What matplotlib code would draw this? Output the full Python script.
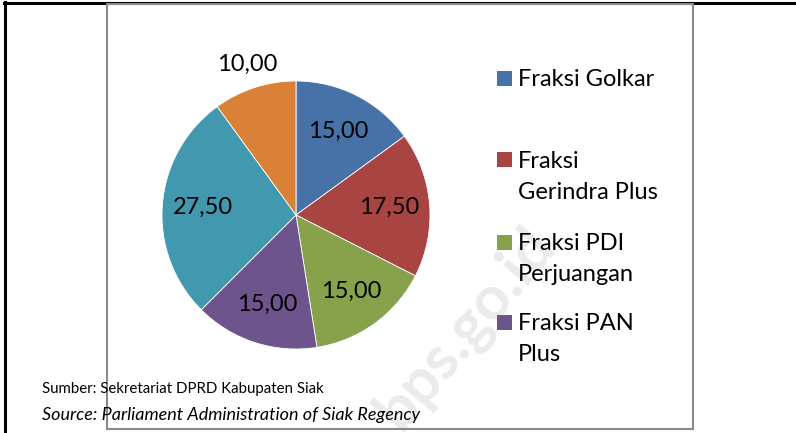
import numpy as np
import matplotlib
matplotlib.use("Agg")
import matplotlib.pyplot as plt
from matplotlib.patches import Rectangle
from matplotlib.lines import Line2D

categories = ["Fraksi Golkar", "Fraksi Gerindra Plus", "Fraksi PDI Perjuangan",
              "Fraksi PAN Plus", "Fraksi Lainnya", "Fraksi Lain"]
values = [15.00, 17.50, 15.00, 15.00, 27.50, 10.00]
legend_labels = ["Fraksi Golkar", "Fraksi\nGerindra Plus", "Fraksi PDI\nPerjuangan", "Fraksi PAN\nPlus"]
colors = ["#4672A8", "#A84542", "#87A24B", "#6E548D", "#4298AF", "#DA8138"]
source_lines = ["Sumber: Sekretariat DPRD Kabupaten Siak",
                "Source: Parliament Administration of Siak Regency"]

W, H = 796, 433
fig = plt.figure(figsize=(W / 100, H / 100), dpi=100)
fig.patch.set_facecolor("white")
plt.rcParams['font.family'] = ['Lato', 'DejaVu Sans']

def fx(x): return x / W
def fy(y): return 1 - y / H

# watermark
fig.text(fx(465), fy(328), "bps.go.id", rotation=50, fontsize=44, fontweight="bold",
         color="#ebebeb", ha="center", va="center", zorder=0)

# gray chart border
fig.add_artist(Rectangle((fx(107), fy(429)), fx(693) - fx(107), fy(4) - fy(429),
                         transform=fig.transFigure, fill=False, edgecolor="#8a8a8a",
                         linewidth=1.5, zorder=3))
# outer black lines
fig.add_artist(Line2D([fx(4), 1], [fy(2.5), fy(2.5)], transform=fig.transFigure,
                      color="black", linewidth=2.2))
fig.add_artist(Line2D([fx(4.5), fx(4.5)], [fy(2), 0], transform=fig.transFigure,
                      color="black", linewidth=2.2))

cx, cy, r = 296, 215, 134
ax = fig.add_axes([fx(cx - r), fy(cy + r), 2 * r / W, 2 * r / H])
ax.patch.set_alpha(0)
wedges, _ = ax.pie(values, colors=colors, startangle=90, counterclock=False,
                   wedgeprops=dict(linewidth=0.6, edgecolor="white"))
ax.set_xlim(-1, 1)
ax.set_ylim(-1, 1)
ax.set_aspect("equal")
ax.axis("off")

total = sum(values)
start = 90.0
for i, v in enumerate(values):
    ang = np.deg2rad(start - 360 * v / total / 2)
    start -= 360 * v / total
    d = 1.18 if v / total < 0.12 else 0.70
    ax.text(d * np.cos(ang), d * np.sin(ang), f"{v:.2f}".replace(".", ","),
            ha="center", va="center", fontsize=17, color="black")

# legend (only 4 visible entries)
ys = [78.5, 160, 242, 322]
for lab, col, y in zip(legend_labels, colors, ys):
    fig.add_artist(Rectangle((fx(497), fy(y + 7.5)), 15 / W, 15 / H,
                             transform=fig.transFigure, facecolor=col, edgecolor="none"))
    for k, line in enumerate(lab.split("\n")):
        fig.text(fx(518), fy(y + 8 + 31 * k), line, fontsize=17, va="baseline", ha="left")

fig.text(fx(42), fy(393), source_lines[0], fontsize=10.8, va="baseline", ha="left")
fig.text(fx(42), fy(420), source_lines[1], fontsize=13, va="baseline", ha="left",
         style="italic")

fig.savefig("out.png", dpi=100)
